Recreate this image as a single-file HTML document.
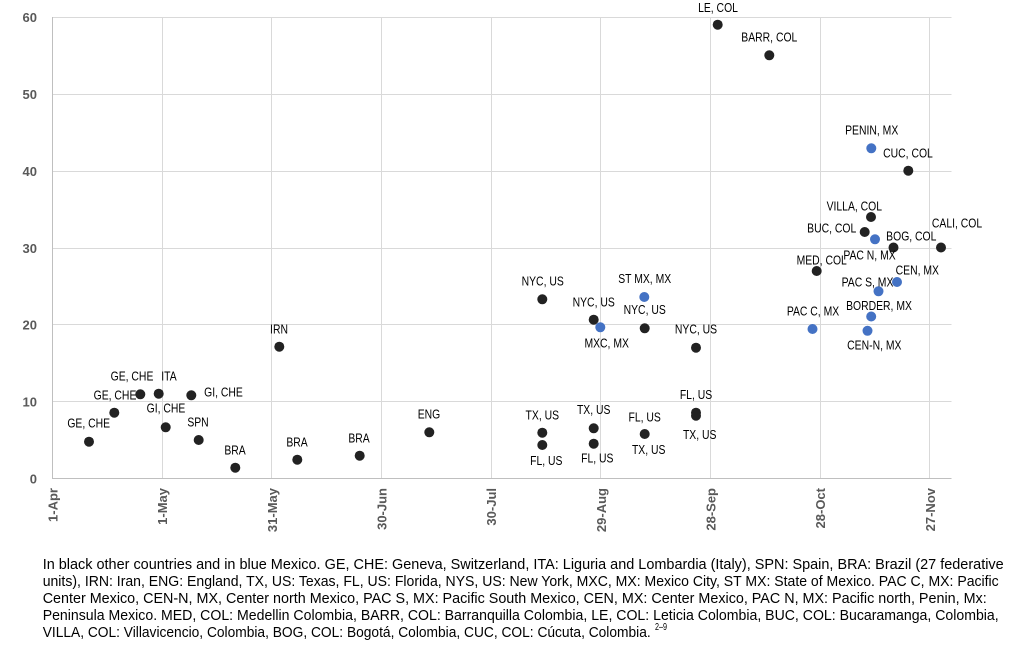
<!DOCTYPE html>
<html><head><meta charset="utf-8"><style>
html,body{margin:0;padding:0;background:#fff;}
svg{display:block;}
.tk{font-family:"Liberation Sans",sans-serif;font-weight:bold;font-size:13px;fill:#595959;}
.lb{font-family:"Liberation Sans",sans-serif;font-size:13px;fill:#000;}
.cp{font-family:"Liberation Sans",sans-serif;font-size:15px;fill:#000;}
</style></head><body>
<svg width="1012" height="657" viewBox="0 0 1012 657" xmlns="http://www.w3.org/2000/svg">
<g stroke="#d9d9d9" stroke-width="1" shape-rendering="crispEdges">
<line x1="52.5" y1="17.5" x2="951.5" y2="17.5"/>
<line x1="52.5" y1="94.5" x2="951.5" y2="94.5"/>
<line x1="52.5" y1="171.5" x2="951.5" y2="171.5"/>
<line x1="52.5" y1="248.5" x2="951.5" y2="248.5"/>
<line x1="52.5" y1="324.5" x2="951.5" y2="324.5"/>
<line x1="52.5" y1="401.5" x2="951.5" y2="401.5"/>
<line x1="162.5" y1="17" x2="162.5" y2="478"/>
<line x1="271.5" y1="17" x2="271.5" y2="478"/>
<line x1="381.5" y1="17" x2="381.5" y2="478"/>
<line x1="491.5" y1="17" x2="491.5" y2="478"/>
<line x1="600.5" y1="17" x2="600.5" y2="478"/>
<line x1="710.5" y1="17" x2="710.5" y2="478"/>
<line x1="820.5" y1="17" x2="820.5" y2="478"/>
<line x1="929.5" y1="17" x2="929.5" y2="478"/>
</g>
<g stroke="#bfbfbf" stroke-width="1" shape-rendering="crispEdges">
<line x1="52.5" y1="17" x2="52.5" y2="479"/>
<line x1="52" y1="478.5" x2="951.5" y2="478.5"/>
</g>
<g class="tk" text-anchor="end">
<text x="37" y="22">60</text>
<text x="37" y="99">50</text>
<text x="37" y="176">40</text>
<text x="37" y="253">30</text>
<text x="37" y="329.5">20</text>
<text x="37" y="406.5">10</text>
<text x="37" y="483.5">0</text>
</g>
<g class="tk" text-anchor="end">
<text transform="translate(57.5,488) rotate(-90)">1-Apr</text>
<text transform="translate(167,488) rotate(-90)">1-May</text>
<text transform="translate(277,488) rotate(-90)">31-May</text>
<text transform="translate(386.5,488) rotate(-90)">30-Jun</text>
<text transform="translate(496,488) rotate(-90)">30-Jul</text>
<text transform="translate(606,488) rotate(-90)">29-Aug</text>
<text transform="translate(715.5,488) rotate(-90)">28-Sep</text>
<text transform="translate(825,488) rotate(-90)">28-Oct</text>
<text transform="translate(935,488) rotate(-90)">27-Nov</text>
</g>
<g fill="#222">
<circle cx="89" cy="441.7" r="5"/>
<circle cx="114.3" cy="412.7" r="5"/>
<circle cx="140.3" cy="394.3" r="5"/>
<circle cx="158.7" cy="393.7" r="5"/>
<circle cx="191.3" cy="395.3" r="5"/>
<circle cx="165.7" cy="427.3" r="5"/>
<circle cx="198.7" cy="440" r="5"/>
<circle cx="235.3" cy="467.7" r="5"/>
<circle cx="279.3" cy="346.7" r="5"/>
<circle cx="297.3" cy="459.7" r="5"/>
<circle cx="359.7" cy="455.7" r="5"/>
<circle cx="429.3" cy="432.3" r="5"/>
<circle cx="542.3" cy="299.3" r="5"/>
<circle cx="593.7" cy="319.7" r="5"/>
<circle cx="644.7" cy="328.3" r="5"/>
<circle cx="696" cy="347.7" r="5"/>
<circle cx="542.3" cy="432.7" r="5"/>
<circle cx="542.3" cy="445" r="5"/>
<circle cx="593.7" cy="428.3" r="5"/>
<circle cx="593.7" cy="443.7" r="5"/>
<circle cx="644.7" cy="434" r="5"/>
<circle cx="696" cy="412.7" r="5"/>
<circle cx="696" cy="415.7" r="5"/>
<circle cx="717.7" cy="24.7" r="5"/>
<circle cx="769.3" cy="55.3" r="5"/>
<circle cx="908.3" cy="170.7" r="5"/>
<circle cx="871" cy="217" r="5"/>
<circle cx="864.7" cy="232" r="5"/>
<circle cx="893.5" cy="247.5" r="5"/>
<circle cx="941" cy="247.5" r="5"/>
<circle cx="816.7" cy="271" r="5"/>
</g>
<g fill="#4472c4">
<circle cx="600.3" cy="327.3" r="5"/>
<circle cx="644.3" cy="297" r="5"/>
<circle cx="812.5" cy="329" r="5"/>
<circle cx="878.5" cy="291.3" r="5"/>
<circle cx="897" cy="282" r="5"/>
<circle cx="871.2" cy="316.5" r="5"/>
<circle cx="867.5" cy="330.8" r="5"/>
<circle cx="871.3" cy="148.3" r="5"/>
<circle cx="875" cy="239.3" r="5"/>
</g>
<g class="lb" text-anchor="middle">
<text transform="translate(88.7,427.6) scale(0.8,1)">GE, CHE</text>
<text transform="translate(115,399.6) scale(0.8,1)">GE, CHE</text>
<text transform="translate(132,380.6) scale(0.8,1)">GE, CHE</text>
<text transform="translate(169,380.6) scale(0.8,1)">ITA</text>
<text transform="translate(223.5,396.3) scale(0.8,1)">GI, CHE</text>
<text transform="translate(166,412.6) scale(0.8,1)">GI, CHE</text>
<text transform="translate(198,426.3) scale(0.8,1)">SPN</text>
<text transform="translate(235,454.6) scale(0.8,1)">BRA</text>
<text transform="translate(279,333.6) scale(0.8,1)">IRN</text>
<text transform="translate(297,446.6) scale(0.8,1)">BRA</text>
<text transform="translate(359,442.3) scale(0.8,1)">BRA</text>
<text transform="translate(429,418.6) scale(0.8,1)">ENG</text>
<text transform="translate(542.7,285.3) scale(0.8,1)">NYC, US</text>
<text transform="translate(593.7,306.3) scale(0.8,1)">NYC, US</text>
<text transform="translate(644.7,313.9) scale(0.8,1)">NYC, US</text>
<text transform="translate(696,333.3) scale(0.8,1)">NYC, US</text>
<text transform="translate(542.3,419.3) scale(0.8,1)">TX, US</text>
<text transform="translate(546.3,464.9) scale(0.8,1)">FL, US</text>
<text transform="translate(593.7,413.9) scale(0.8,1)">TX, US</text>
<text transform="translate(597.3,462.3) scale(0.8,1)">FL, US</text>
<text transform="translate(644.7,421.3) scale(0.8,1)">FL, US</text>
<text transform="translate(648.7,453.9) scale(0.8,1)">TX, US</text>
<text transform="translate(696,398.9) scale(0.8,1)">FL, US</text>
<text transform="translate(699.7,438.9) scale(0.8,1)">TX, US</text>
<text transform="translate(718,11.9) scale(0.8,1)">LE, COL</text>
<text transform="translate(769.3,41.3) scale(0.8,1)">BARR, COL</text>
<text transform="translate(908,157.3) scale(0.8,1)">CUC, COL</text>
<text transform="translate(854.3,210.3) scale(0.8,1)">VILLA, COL</text>
<text transform="translate(831.7,232.6) scale(0.8,1)">BUC, COL</text>
<text transform="translate(911.3,240.3) scale(0.8,1)">BOG, COL</text>
<text transform="translate(957,227.3) scale(0.8,1)">CALI, COL</text>
<text transform="translate(821.7,264.6) scale(0.8,1)">MED, COL</text>
<text transform="translate(606.7,347.3) scale(0.8,1)">MXC, MX</text>
<text transform="translate(644.7,282.9) scale(0.8,1)">ST MX, MX</text>
<text transform="translate(813,315.6) scale(0.8,1)">PAC C, MX</text>
<text transform="translate(867.5,286.3) scale(0.8,1)">PAC S, MX</text>
<text transform="translate(917.3,274.6) scale(0.8,1)">CEN, MX</text>
<text transform="translate(879,310.1) scale(0.8,1)">BORDER, MX</text>
<text transform="translate(874.3,349.3) scale(0.8,1)">CEN-N, MX</text>
<text transform="translate(871.7,134.3) scale(0.8,1)">PENIN, MX</text>
<text transform="translate(869.5,259.3) scale(0.8,1)">PAC N, MX</text>
</g>
<g class="cp">
<text x="42.7" y="569" textLength="961" lengthAdjust="spacingAndGlyphs">In black other countries and in blue Mexico. GE, CHE: Geneva, Switzerland, ITA: Liguria and Lombardia (Italy), SPN: Spain, BRA: Brazil (27 federative</text>
<text x="42.7" y="586" textLength="956" lengthAdjust="spacingAndGlyphs">units), IRN: Iran, ENG: England, TX, US: Texas, FL, US: Florida, NYS, US: New York, MXC, MX: Mexico City, ST MX: State of Mexico. PAC C, MX: Pacific</text>
<text x="42.7" y="603" textLength="944" lengthAdjust="spacingAndGlyphs">Center Mexico, CEN-N, MX, Center north Mexico, PAC S, MX: Pacific South Mexico, CEN, MX: Center Mexico, PAC N, MX: Pacific north, Penin, Mx:</text>
<text x="42.7" y="620" textLength="956" lengthAdjust="spacingAndGlyphs">Peninsula Mexico. MED, COL: Medellin Colombia, BARR, COL: Barranquilla Colombia, LE, COL: Leticia Colombia, BUC, COL: Bucaramanga, Colombia,</text>
<text x="42.7" y="637" textLength="608" lengthAdjust="spacingAndGlyphs">VILLA, COL: Villavicencio, Colombia, BOG, COL: Bogotá, Colombia, CUC, COL: Cúcuta, Colombia.</text>
<text x="655" y="630" style="font-size:10px" textLength="12" lengthAdjust="spacingAndGlyphs">2–9</text>
</g>
</svg>
</body></html>
